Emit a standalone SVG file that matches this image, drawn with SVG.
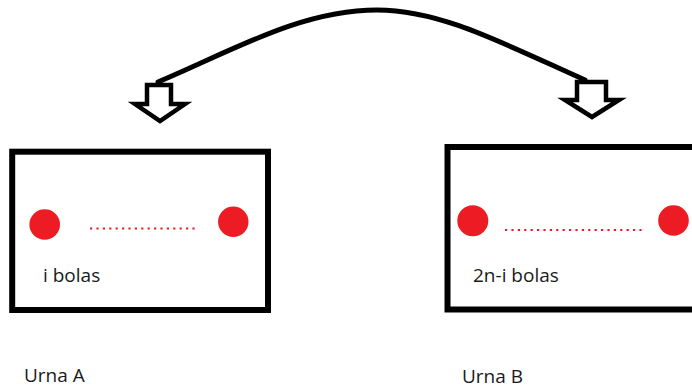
<svg xmlns="http://www.w3.org/2000/svg" width="692" height="389" viewBox="0 0 692 389">
  <style>
    .box { fill: none; stroke: #000; stroke-width: 6; }
    .ball { fill: #ed1c24; }
    .dots { fill: none; stroke: #ed1c24; stroke-width: 2.2; stroke-dasharray: 2.2 4.2; }
    .lbl { font-family: "Open Sans", "Noto Sans", "DejaVu Sans", sans-serif; font-size: 19px; fill: #1a1a1a; }
    .arc { fill: none; stroke: #000; stroke-width: 5; stroke-linecap: round; }
    .harrow { fill: #fff; stroke: #000; stroke-width: 4.5; stroke-linejoin: miter; }
  </style>
  <rect width="692" height="389" fill="#fff"/>
  <g id="connectors">
    <path class="arc" d="M158,82 C230,52 300,10 377,10 C440,10 500,42 585,80"/>
    <polygon class="harrow" points="147,85 171,85 171,104 185,104 160,121 135,104 147,104"/>
    <polygon class="harrow" points="577,82 606,82 606,100 619,100 592,117 565,100 577,100"/>
  </g>
  <g id="urna-a">
    <rect class="box" x="12.2" y="151.7" width="255.8" height="158.3"/>
    <circle class="ball" cx="44.7" cy="224.5" r="15.3"/>
    <circle class="ball" cx="233.3" cy="221.7" r="15.2"/>
    <line class="dots" x1="90" y1="228.5" x2="198" y2="228.5"/>
    <text class="lbl" x="43" y="281.5">i bolas</text>
  </g>
  <g id="urna-b">
    <rect class="box" x="447.5" y="147" width="260" height="162.5"/>
    <circle class="ball" cx="472.8" cy="220.8" r="15.5"/>
    <circle class="ball" cx="673.5" cy="220.5" r="15.3"/>
    <line class="dots" x1="505" y1="230" x2="644" y2="230"/>
    <text class="lbl" x="473" y="281.5">2n-i bolas</text>
  </g>
  <g id="label-a">
    <text class="lbl" x="24" y="381.7">Urna A</text>
  </g>
  <g id="label-b">
    <text class="lbl" x="462" y="382.7">Urna B</text>
  </g>
</svg>
